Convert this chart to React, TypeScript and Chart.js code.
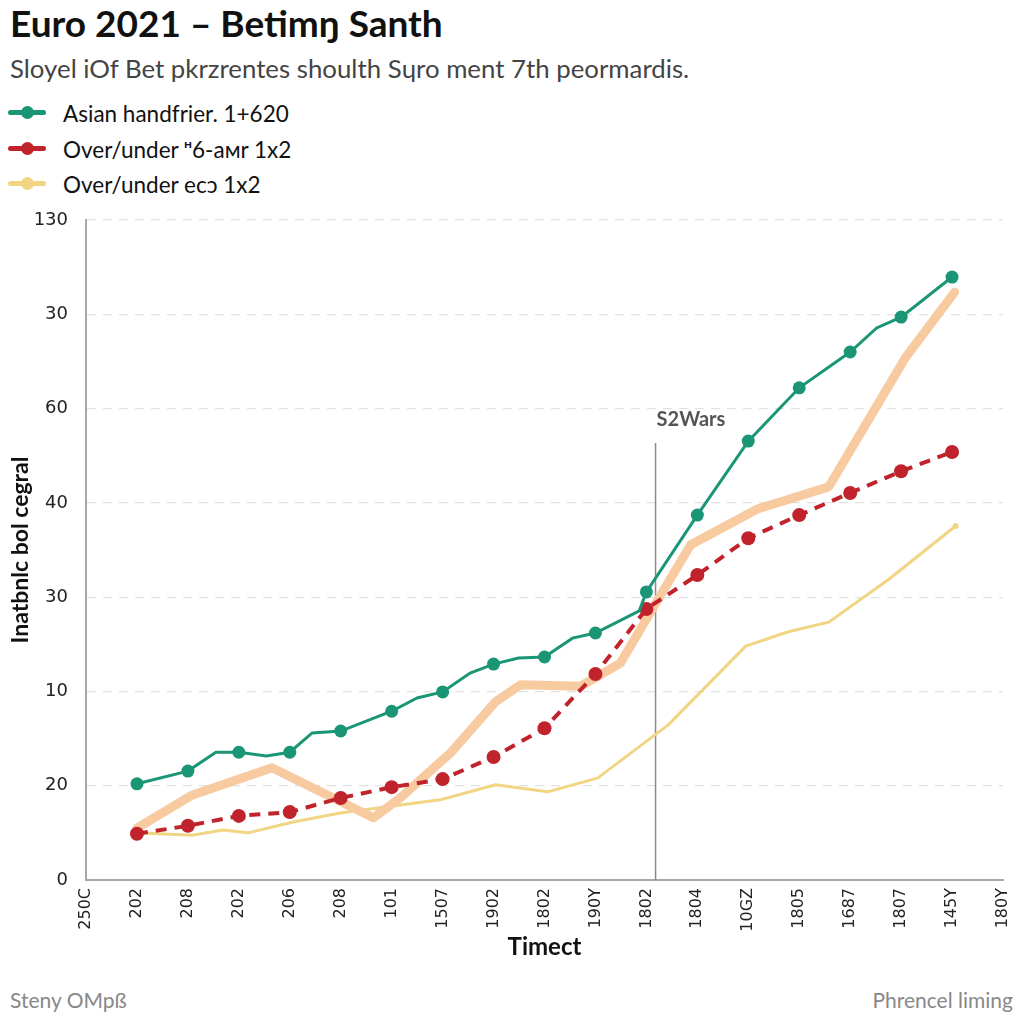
import React, { useEffect, useRef } from "react";
import { Chart, registerables } from "chart.js";

Chart.register(...registerables);

// ---- texts ----
const titleText = "Euro 2021 – Betimŋ Santh";
const subtitleText = "Sloyel iOf Bet pkrzrentes shoulth Sɥro ment 7th peormardis.";
const xAxisTitle = "Timect";
const yAxisTitle = "Inatbnlc bol cegral";
const footerLeft = "Steny OMpß";
const footerRight = "Phrencel liming";
const markerLabel = "S2Wars";

// ---- axes ----
const xTickLabels = ["250C", "202", "208", "202", "206", "208", "101", "1507", "1902", "1802", "190Y", "1802", "1804", "10GZ", "1805", "1687", "1807", "145Y", "180Y"];
const yTickLabels = ["0", "20", "10", "30", "40", "60", "30", "130"];
const yMin = 0;
const yMax = 140;
const yStep = 20;

// ---- marker line ----
const markerX = 11.18;
const markerTop = 92.7;

// ---- series ----
const seriesLabels = ["Asian handfrier. 1+620", "Over/under ᵸ6-aмr 1x2", "Over/under ecɔ 1x2"];

const greenX = [1, 2, 2.55, 3, 3.54, 4, 4.44, 5, 6, 6.5, 7, 7.54, 8, 8.49, 9, 9.55, 10, 10.86, 11, 12, 13, 14, 15, 15.52, 16, 17];
const greenY = [20.4, 23.1, 27.1, 27.1, 26.3, 27.1, 31.2, 31.6, 35.8, 38.6, 39.9, 43.9, 45.8, 47.1, 47.3, 51.3, 52.4, 57.1, 61.1, 77.4, 93.1, 104.4, 112.0, 117.1, 119.4, 127.9];

const redX = [1, 2, 3, 4, 5, 6, 7, 8, 9, 10, 11, 12, 13, 14, 15, 16, 17];
const redY = [9.8, 11.5, 13.6, 14.4, 17.4, 19.7, 21.4, 26.1, 32.2, 43.7, 57.5, 64.7, 72.5, 77.4, 82.1, 86.7, 90.8];

const peachX = [1, 2.08, 3.65, 5.64, 6.17, 7.15, 8.04, 8.53, 9.71, 10.49, 11.14, 11.87, 13.18, 14.58, 16.09, 17.05];
const peachY = [11.0, 18.0, 23.8, 13.2, 17.4, 26.9, 37.8, 41.4, 41.1, 46.0, 57.9, 71.1, 78.7, 83.4, 110.9, 124.7];

const yellowX = [1, 2.08, 2.69, 3.18, 4.07, 4.99, 6.17, 6.95, 8.04, 9.06, 10.04, 11.43, 12.95, 13.77, 14.58, 15.76, 17.07];
const yellowY = [10.0, 9.5, 10.6, 10.0, 12.3, 14.2, 15.9, 17.0, 20.2, 18.7, 21.6, 32.9, 49.6, 52.6, 54.7, 63.8, 75.1];

const GREEN = "#1a9676";
const RED = "#c0232b";
const PEACH = "#f8caa0";
const YELLOW = "#f1d583";

const toPoints = (xs: number[], ys: number[]) => xs.map((x, i) => ({ x, y: ys[i] }));

const zeroPadding = (scale: any) => {
  scale.paddingTop = 0;
  scale.paddingBottom = 0;
  scale.paddingLeft = 0;
  scale.paddingRight = 0;
};

const markerPlugin = {
  id: "markerLine",
  beforeDatasetsDraw(chart: any) {
    const { ctx, scales, chartArea } = chart;
    const x = scales.x.getPixelForValue(markerX);
    const top = scales.y.getPixelForValue(markerTop);
    ctx.save();
    ctx.strokeStyle = "#8a8a8a";
    ctx.lineWidth = 1.5;
    ctx.beginPath();
    ctx.moveTo(x, top);
    ctx.lineTo(x, chartArea.bottom);
    ctx.stroke();
    ctx.fillStyle = "#555";
    ctx.font = "bold 20px Lato";
    ctx.textAlign = "left";
    ctx.textBaseline = "alphabetic";
    ctx.fillText(markerLabel, x + 1, top - 17);
    ctx.restore();
  },
};

function LegendItem({ color, label, top }: { color: string; label: string; top: number }) {
  return (
    <div style={{ position: "absolute", left: 8, top: top - 14, height: 28, display: "flex", alignItems: "center" }}>
      <div style={{ position: "relative", width: 38, height: 28 }}>
        <div style={{ position: "absolute", left: 0, top: 11, width: 38, height: 5, borderRadius: 3, background: color }} />
        <div style={{ position: "absolute", left: 13, top: 7, width: 13, height: 13, borderRadius: "50%", background: color }} />
      </div>
      <span style={{ marginLeft: 17, fontFamily: "Lato", fontSize: 22.5, color: "#111" }}>{label}</span>
    </div>
  );
}

export default function App() {
  const canvasRef = useRef<HTMLCanvasElement | null>(null);

  useEffect(() => {
    if (!canvasRef.current) return;
    const chart = new Chart(canvasRef.current, {
      type: "line",
      data: {
        datasets: [
          {
            label: seriesLabels[0],
            data: toPoints(greenX, greenY),
            borderColor: GREEN,
            backgroundColor: GREEN,
            borderWidth: 3,
            pointRadius: greenX.map((x) => (Number.isInteger(x) ? 6.5 : 0)),
            pointBorderWidth: 0,
            pointBackgroundColor: GREEN,
            tension: 0,
            order: 0,
          },
          {
            label: seriesLabels[1],
            data: toPoints(redX, redY),
            borderColor: RED,
            backgroundColor: RED,
            borderWidth: 4,
            borderDash: [11, 8],
            pointRadius: 7,
            pointBorderWidth: 0,
            pointBackgroundColor: RED,
            tension: 0,
            order: 1,
          },
          {
            label: "peach",
            data: toPoints(peachX, peachY),
            borderColor: PEACH,
            borderWidth: 9,
            borderCapStyle: "round",
            borderJoinStyle: "round",
            pointRadius: 0,
            tension: 0,
            order: 2,
          },
          {
            label: seriesLabels[2],
            data: toPoints(yellowX, yellowY),
            borderColor: YELLOW,
            backgroundColor: YELLOW,
            borderWidth: 3,
            borderJoinStyle: "round",
            pointRadius: yellowX.map((_, i) => (i === yellowX.length - 1 ? 3 : 0)),
            pointBorderWidth: 0,
            pointBackgroundColor: YELLOW,
            tension: 0,
            order: 3,
          },
        ],
      },
      options: {
        animation: false,
        responsive: false,
        layout: { padding: { left: 0, right: 21, top: 20, bottom: 0 } },
        plugins: {
          legend: { display: false },
          tooltip: { enabled: false },
          title: { display: false },
        },
        scales: {
          x: {
            type: "linear",
            min: 0,
            max: xTickLabels.length - 1,
            afterFit: (scale: any) => {
              scale.height = 100;
              zeroPadding(scale);
            },
            ticks: {
              stepSize: 1,
              autoSkip: false,
              minRotation: 90,
              maxRotation: 90,
              padding: 8,
              color: "#222",
              font: { family: "DejaVu Sans", size: 16 },
              callback: (_v: any, i: number) => xTickLabels[i],
            },
            grid: { display: false, drawTicks: false },
            border: { display: true, color: "#a8a8a8", width: 2 },
            title: {
              display: true,
              text: xAxisTitle,
              color: "#111",
              font: { family: "Lato", size: 24, weight: "bold" },
              padding: { top: 0, bottom: 18 },
            },
          },
          y: {
            type: "linear",
            min: yMin,
            max: yMax,
            afterFit: (scale: any) => {
              scale.width = 86;
              zeroPadding(scale);
            },
            ticks: {
              stepSize: yStep,
              padding: 18,
              color: "#222",
              font: { family: "DejaVu Sans", size: 18 },
              callback: (_v: any, i: number) => yTickLabels[i],
            },
            grid: {
              color: "#e2e2e2",
              lineWidth: 1.2,
              drawTicks: false,
            },
            border: { display: true, color: "#a8a8a8", width: 2, dash: [9, 7] },
            title: {
              display: true,
              text: yAxisTitle,
              color: "#111",
              font: { family: "Lato", size: 23, weight: "bold" },
              padding: { top: 7, bottom: 0 },
            },
          },
        },
      },
      plugins: [markerPlugin],
    } as any);
    return () => chart.destroy();
  }, []);

  return (
    <div style={{ position: "absolute", left: 0, top: 0, width: 1024, height: 1024, background: "#fff", overflow: "hidden" }}>
      <div style={{ position: "absolute", left: 10, top: 0, fontFamily: "Lato", fontWeight: 700, fontSize: 37, color: "#111", whiteSpace: "nowrap" }}>
        {titleText}
      </div>
      <div style={{ position: "absolute", left: 10, top: 53, fontFamily: "Lato", fontSize: 25.8, color: "#444", whiteSpace: "nowrap" }}>
        {subtitleText}
      </div>
      <LegendItem color={GREEN} label={seriesLabels[0]} top={113} />
      <LegendItem color={RED} label={seriesLabels[1]} top={149} />
      <LegendItem color={YELLOW} label={seriesLabels[2]} top={184} />
      <canvas ref={canvasRef} width={1024} height={780} style={{ position: "absolute", left: 0, top: 200, width: 1024, height: 780 }} />
      <div style={{ position: "absolute", left: 10, top: 987, fontFamily: "Lato", fontSize: 21, color: "#888", whiteSpace: "nowrap" }}>
        {footerLeft}
      </div>
      <div style={{ position: "absolute", right: 11, top: 987, fontFamily: "Lato", fontSize: 21, color: "#888", whiteSpace: "nowrap" }}>
        {footerRight}
      </div>
    </div>
  );
}
